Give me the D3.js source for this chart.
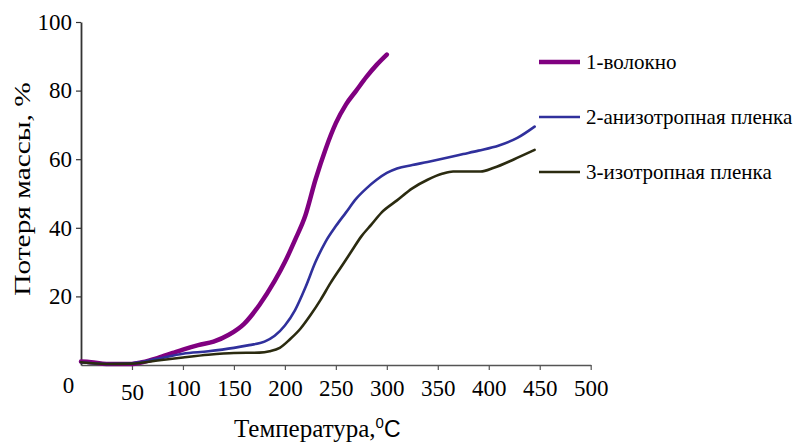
<!DOCTYPE html>
<html>
<head>
<meta charset="utf-8">
<script src="https://cdn.jsdelivr.net/npm/d3@7"></script>
<style>
  body { margin: 0; background: #fff; }
  svg { display: block; }
</style>
</head>
<body>
<div id="chart"></div>
<script>
const width = 793;
const height = 443;
const serif = 'Liberation Serif';

// temperature, °C / mass loss, %
const fiber = [
  [0, 1], [10, 0.8], [25, 0.3], [50, 0.3], [60, 0.8], [75, 2], [90, 3.5], [100, 4.5],
  [115, 5.8], [130, 6.8], [145, 8.8], [160, 12], [175, 17.5], [190, 24.5], [200, 30],
  [210, 36.5], [220, 43.5], [230, 54], [240, 63], [250, 70.5], [260, 76], [270, 80],
  [280, 84], [290, 87.5], [300, 90.5]
];
const anisoFilm = [
  [0, 0.8], [25, 0.3], [50, 0.5], [75, 1.8], [100, 3.3], [125, 4], [150, 5], [165, 5.8],
  [180, 6.8], [190, 8.5], [200, 11.5], [210, 16], [220, 22.5], [230, 30], [240, 36],
  [250, 40.5], [260, 44.5], [270, 48.5], [280, 51.5], [290, 54], [300, 56], [310, 57.3],
  [325, 58.3], [340, 59.2], [360, 60.5], [375, 61.5], [390, 62.5], [410, 64], [428, 66.2],
  [445, 69.5]
];
const isoFilm = [
  [0, 0.8], [25, 0.3], [50, 0.4], [75, 1.3], [100, 2.2], [125, 3], [150, 3.5], [175, 3.6],
  [185, 4], [195, 5], [205, 7.5], [215, 10.5], [225, 14.5], [235, 19], [245, 24],
  [255, 28.5], [265, 33], [275, 37.5], [285, 41], [295, 44.5], [310, 48], [325, 51.5],
  [340, 54], [355, 55.8], [365, 56.4], [380, 56.4], [392, 56.4], [405, 57.5], [425, 60],
  [445, 62.7]
];

const seriesNames = ['1-волокно', '2-анизотропная пленка', '3-изотропная пленка'];
const xTicks = [0, 50, 100, 150, 200, 250, 300, 350, 400, 450, 500];
const yTicks = [20, 40, 60, 80, 100];

const series = [
  { name: seriesNames[0], values: fiber, color: '#800080', width: 4.5 },
  { name: seriesNames[1], values: anisoFilm, color: '#30309c', width: 2.6 },
  { name: seriesNames[2], values: isoFilm, color: '#2b2b10', width: 2.6 }
];

const margin = { left: 81, top: 22, right: 793 - 590.7, bottom: 443 - 365 };

const x = d3.scaleLinear().domain([0, 500]).range([margin.left, width - margin.right]);
const y = d3.scaleLinear().domain([0, 100]).range([height - margin.bottom, margin.top]);

const svg = d3.select('#chart')
  .append('svg')
  .attr('width', width)
  .attr('height', height);

// x axis
const xAxis = svg.append('g')
  .attr('transform', `translate(0,${y(0)})`)
  .call(d3.axisBottom(x).tickValues(xTicks).tickSize(5).tickSizeOuter(0).tickPadding(9));

xAxis.select('.domain').attr('stroke', '#555').attr('stroke-width', 1.5);
xAxis.selectAll('.tick line').attr('stroke', '#555').attr('stroke-width', 1.2);
xAxis.selectAll('.tick text')
  .style('font-family', serif)
  .style('font-size', '23px')
  .attr('fill', '#000')
  .attr('dx', d => d === 0 ? -13 : 0)
  .attr('dy', d => d === 0 ? '0.6em' : d === 50 ? '0.9em' : '0.74em');
xAxis.selectAll('.tick').filter(d => d === 0).select('line').remove();

// y axis
const yAxis = svg.append('g')
  .attr('transform', `translate(${x(0)},0)`)
  .call(d3.axisLeft(y).tickValues(yTicks).tickSize(5).tickSizeOuter(0).tickPadding(4));

yAxis.select('.domain').attr('stroke', '#333').attr('stroke-width', 1.8);
yAxis.selectAll('.tick line').attr('stroke', '#333').attr('stroke-width', 1.2);
yAxis.selectAll('.tick text')
  .style('font-family', serif)
  .style('font-size', '23px')
  .attr('fill', '#000');

// lines
const line = d3.line()
  .x(d => x(d[0]))
  .y(d => y(d[1]))
  .curve(d3.curveMonotoneX);

svg.append('g')
  .selectAll('path')
  .data(series)
  .enter()
  .append('path')
  .attr('d', d => line(d.values))
  .attr('fill', 'none')
  .attr('stroke', d => d.color)
  .attr('stroke-width', d => d.width)
  .attr('stroke-linecap', 'round')
  .attr('stroke-linejoin', 'round');

// legend
const legend = svg.append('g')
  .selectAll('g')
  .data(series)
  .enter()
  .append('g')
  .attr('transform', (d, i) => `translate(539,${62 + i * 55})`);

legend.append('line')
  .attr('x1', 0)
  .attr('x2', 41)
  .attr('stroke', d => d.color)
  .attr('stroke-width', d => d.width);

legend.append('text')
  .text(d => d.name)
  .attr('x', 47)
  .attr('dy', '0.35em')
  .style('font-family', serif)
  .style('font-size', '21px')
  .attr('fill', '#000');

// axis titles
const xTitle = svg.append('text')
  .attr('x', 234)
  .attr('y', 437)
  .style('font-family', serif)
  .style('font-size', '25px')
  .attr('fill', '#000');
xTitle.append('tspan').text('Температура,');
xTitle.append('tspan')
  .text('0')
  .attr('dy', -9)
  .style('font-size', '15px')
  .style('font-family', 'Liberation Sans');
xTitle.append('tspan')
  .text('C')
  .attr('dy', 9)
  .style('font-family', 'Liberation Sans')
  .style('font-size', '23px');

svg.append('text')
  .attr('transform', 'translate(30,189) rotate(-90) scale(1.28,1)')
  .attr('text-anchor', 'middle')
  .style('font-family', serif)
  .style('font-size', '23px')
  .attr('fill', '#000')
  .text('Потеря массы, %');
</script>
</body>
</html>
